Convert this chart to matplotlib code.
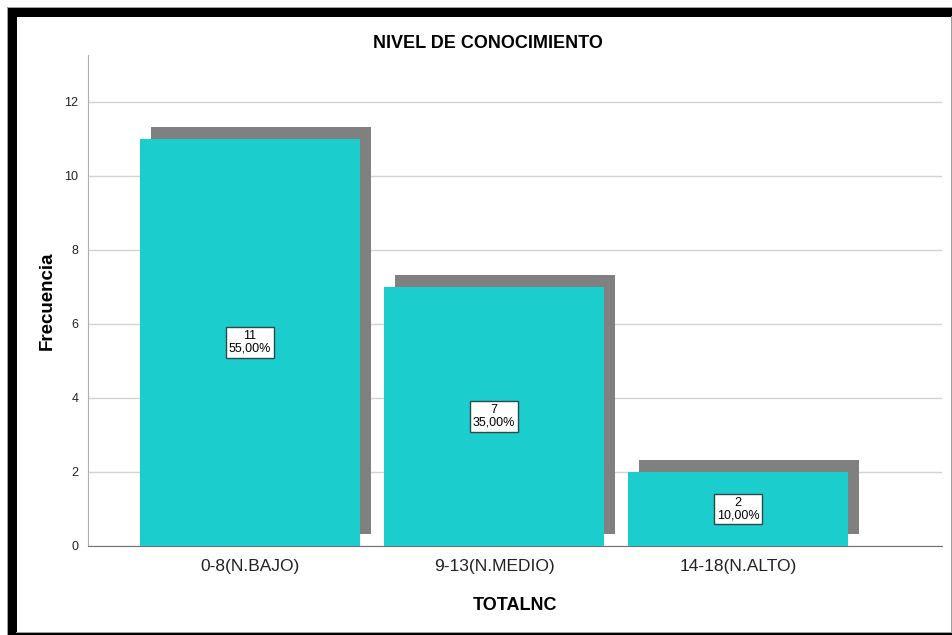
import matplotlib
matplotlib.use("Agg")
import matplotlib.pyplot as plt
from matplotlib.patches import Rectangle
import numpy as np

categories = ["0-8(N.BAJO)", "9-13(N.MEDIO)", "14-18(N.ALTO)"]
counts = [11, 7, 2]
percents = ["55,00%", "35,00%", "10,00%"]
yticks = [0, 2, 4, 6, 8, 10, 12]

plt.rcParams['font.family'] = ['Liberation Sans', 'DejaVu Sans']

W, H = 953, 635
fig = plt.figure(figsize=(W / 100, H / 100), dpi=100)
fig.patch.set_facecolor('white')

# outer frame
def frect(x0, y0, x1, y1, color):
    # pixel coords from top-left
    fig.patches.append(Rectangle((x0 / W, 1 - y1 / H), (x1 - x0) / W, (y1 - y0) / H,
                                 transform=fig.transFigure, facecolor=color,
                                 edgecolor='none', zorder=0))

frect(7, 7, W, 8, '#a0a0a0')
frect(7, 7, 8, H, '#a0a0a0')
frect(8, 8, W, 16.5, '#000000')
frect(8, 8, 16.5, H, '#000000')
frect(951.5, 16, W, H, '#9a9a9a')
frect(16, 631.5, W, 632.5, '#a0a0a0')
frect(16, 632.5, W, H, '#000000')

left, right = 88 / W, 942 / W
bottom, top = 1 - 546 / H, 1 - 55 / H
ax = fig.add_axes([left, bottom, right - left, top - bottom])
ax.set_facecolor('none')

x = np.arange(len(categories))
ax.set_xlim(-0.664, 2.836)
ax.set_ylim(0, 13.27)

# shadows
ax.bar(x + 0.045, counts, width=0.9, bottom=0.324, color='#808080', zorder=2)
# main bars
ax.bar(x, counts, width=0.9, color='#1ccdcd', zorder=3)

for xi, c, p in zip(x, counts, percents):
    ax.text(xi, c / 2, f"{c}\n{p}", ha='center', va='center', fontsize=9,
            linespacing=1.05, zorder=5,
            bbox=dict(boxstyle='square,pad=0.25', facecolor='white',
                      edgecolor='#2a4a4a', linewidth=1.0))

ax.set_yticks(yticks)
ax.set_yticklabels([str(v) for v in yticks], fontsize=9, color='#222222')
ax.set_xticks(x)
ax.set_xticklabels(categories, fontsize=12.5, color='#222222')
ax.tick_params(axis='both', length=0)
ax.tick_params(axis='y', pad=7)
ax.tick_params(axis='x', pad=9)

ax.grid(axis='y', color='#d3d3d3', linewidth=1.0, zorder=0)
ax.set_axisbelow(True)
for s in ['top', 'right']:
    ax.spines[s].set_visible(False)
ax.spines['left'].set_color('#b0b0b0')
ax.spines['bottom'].set_color('#707070')

ax.set_ylabel("Frecuencia", fontsize=13.5, fontweight='bold', labelpad=6)
ax.set_xlabel("TOTALNC", fontsize=13, fontweight='bold', labelpad=17)
fig.text(488 / W, 1 - 43 / H, "NIVEL DE CONOCIMIENTO", ha='center', va='center',
         fontsize=13, fontweight='bold')

fig.savefig("out.png", dpi=100)
